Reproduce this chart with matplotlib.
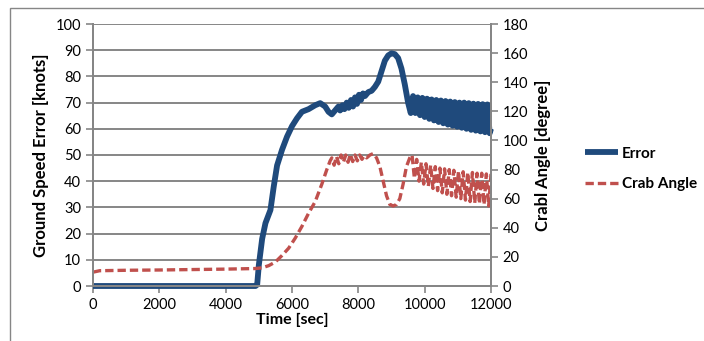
"""
Ground speed error and crab angle over time (two y axes)
"""

import matplotlib
matplotlib.use('Agg')
import matplotlib.pyplot as plt
from matplotlib.patches import Rectangle

plt.rcParams['font.family'] = ['Lato', 'DejaVu Sans']

# Error [knots]
err_t = [0, 4900, 4950, 5000, 5100, 5200, 5350, 5450, 5550, 5700, 5850, 6000,
         6150, 6300, 6500, 6700, 6850, 7000, 7100, 7200, 7300, 7400,
         7450, 7520, 7580, 7650, 7710, 7780, 7840, 7900, 7960, 8020, 8080,
         8140, 8200, 8300, 8400, 8500, 8600, 8700, 8800, 8900, 9000, 9100,
         9200, 9300, 9400, 9500, 9580,
         9650, 9720, 9790, 9860, 9930, 10000, 10070, 10140, 10210, 10280,
         10350, 10420, 10490, 10560, 10630, 10700, 10770, 10840, 10910, 10980,
         11050, 11120, 11190, 11260, 11330, 11400, 11470, 11540, 11610, 11680,
         11750, 11820, 11890, 11960, 12000]
err_v = [0, 0, 0.5, 8, 18, 24, 29, 38, 46, 52, 57, 61,
         64, 66.5, 67.5, 69, 69.8, 68.5, 66.5, 65.5, 67, 68.5,
         67, 69, 67.5, 70, 68, 71, 68.5, 72, 69.5, 73, 71,
         73.5, 72.5, 74, 74.5, 76, 78, 82, 86, 88, 88.8, 88.5,
         87, 83, 77, 70, 66,
         72.5, 66, 72, 65.2, 71.8, 64.5, 71.5, 63.8, 71.2, 63.2,
         71, 62.6, 70.8, 62.1, 70.6, 61.6, 70.4, 61.2, 70.2, 60.8,
         70, 60.4, 70, 60, 69.8, 59.6, 69.6, 59.3, 69.5, 59,
         69.4, 58.7, 69.3, 58.3, 60]

# Crab angle [degree]
crab_t = [0, 200, 1000, 2000, 3000, 4000, 4900, 5100, 5300, 5500, 5700, 5900,
          6100, 6300, 6500, 6700, 6900, 7050, 7150,
          7200, 7270, 7340, 7410, 7480, 7550, 7620, 7690, 7760, 7830, 7900,
          7970, 8040, 8110, 8180, 8250, 8350, 8450, 8550, 8650, 8750, 8850,
          8950, 9050, 9150, 9250, 9350, 9450, 9550,
          9620, 9690, 9760, 9830, 9900, 9970, 10040, 10110, 10180, 10250,
          10320, 10390, 10460, 10530, 10600, 10670, 10740, 10810, 10880, 10950,
          11020, 11090, 11160, 11230, 11300, 11370, 11440, 11510, 11580, 11650,
          11720, 11790, 11860, 11930, 12000]
crab_v = [9.5, 10.5, 10.8, 11, 11.3, 11.6, 12, 12.5, 14, 16.5, 21, 26,
          33, 41, 50, 58, 70, 80, 86,
          88, 83, 89, 84, 90, 85, 90, 85, 90.5, 85.5, 90,
          86, 90, 87, 89.5, 88, 90, 91, 88, 82, 72, 62,
          56, 55, 56, 60, 70, 82, 88,
          90, 74, 87, 72, 85, 70, 84, 68.5, 83, 67,
          82, 65.5, 81, 64, 80.5, 63, 80, 62, 79.5, 61,
          79, 60, 78.5, 59, 78, 58, 78, 57, 77.5, 56.5,
          77.5, 56, 77, 55, 77]

x_ticks = [0, 2000, 4000, 6000, 8000, 10000, 12000]

BLUE = '#1f4a7c'
RED = '#c0504d'
GRAY = '#868686'

fig = plt.figure(figsize=(7.04, 3.41), dpi=100)
fig.patches.append(Rectangle((10 / 704, -0.05), 1.0, 1 - 8 / 341 + 0.05,
                             transform=fig.transFigure, fill=False,
                             edgecolor=GRAY, linewidth=1.0))

ax1 = fig.add_axes([93 / 704, 1 - 286 / 341, 398 / 704, 262 / 341])
ax2 = ax1.twinx()

l1, = ax1.plot(err_t, err_v, color=BLUE, linewidth=4.2, label='Error',
               solid_joinstyle='round', solid_capstyle='butt', clip_on=False)
l2, = ax2.plot(crab_t, crab_v, color=RED, linewidth=2.4, label='Crab Angle',
               dashes=(2.5, 1.2))

ax1.set_xlim(0, 12000)
ax1.set_ylim(0, 100)
ax2.set_ylim(0, 180)
ax1.set_xticks(x_ticks)
ax1.set_yticks(range(0, 101, 10))
ax2.set_yticks(range(0, 181, 20))

ax1.grid(True, axis='y', color=GRAY, linewidth=1.4)
ax1.set_axisbelow(True)

for ax in (ax1, ax2):
    ax.spines['top'].set_visible(False)
    for s in ('left', 'right', 'bottom'):
        ax.spines[s].set_color(GRAY)
        ax.spines[s].set_linewidth(1.4)
    ax.tick_params(colors=GRAY, labelcolor='black', labelsize=10.5,
                   length=5, width=1.2)

ax1.set_xlabel('Time [sec]', fontsize=11.5, fontweight='bold', labelpad=1)
ax1.set_ylabel('Ground Speed Error [knots]', fontsize=12, fontweight='bold',
               labelpad=5)
ax2.set_ylabel('Crabl Angle [degree]', fontsize=12, fontweight='bold',
               labelpad=5)

fig.legend(handles=[l1, l2], loc='center left',
           bbox_to_anchor=(574 / 704, 1 - 169 / 341),
           frameon=False, handlelength=2.2, handletextpad=0.25,
           labelspacing=1.1, borderpad=0.2, prop={'weight': 'bold', 'size': 11})

fig.savefig('out.png', dpi=100)
